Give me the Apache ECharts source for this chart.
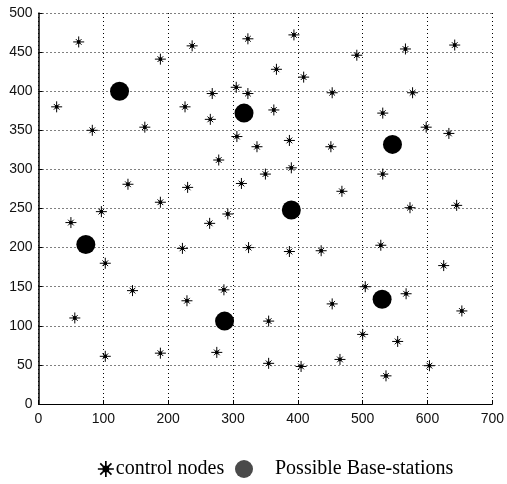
<!DOCTYPE html>
<html>
<head>
<meta charset="utf-8">
<script src="https://cdn.jsdelivr.net/npm/echarts@6/dist/echarts.min.js"></script>
<style>
html,body{margin:0;padding:0;background:#fff;}
#chart{width:507px;height:484px;}
</style>
</head>
<body>
<div id="chart"></div>
<script>
// Control nodes (x, y)
var nodeX = [62,188,237,323,394,491,566,642,367,409,305,323,268,453,577,28,226,363,531,83,164,265,598,633,306,337,387,451,278,390,350,531,138,230,313,468,188,97,50,573,645,292,264,222,324,387,436,528,103,625,145,286,504,567,453,229,653,56,355,500,554,103,188,275,355,405,465,603,536];
var nodeY = [463,441,458,467,472,446,454,459,428,418,405,397,397,398,398,380,380,376,372,350,354,364,354,346,342,329,337,329,312,302,294,294,281,277,282,272,258,246,232,251,254,243,231,199,200,195,196,203,180,177,145,146,150,141,128,132,119,110,106,89,80,61,65,66,52,48,57,49,36];
// Possible base-stations (x, y)
var bsX = [125,317,546,390,73,530,287];
var bsY = [400,372,332,248,204,134,106];
// Axis ticks
var xTicks = [0,100,200,300,400,500,600,700];
var yTicks = [0,50,100,150,200,250,300,350,400,450,500];

var nodes = nodeX.map(function(x,i){return [x,nodeY[i]];});
var bs = bsX.map(function(x,i){return [x,bsY[i]];});

var star = 'path://M0,-5L0,5M-5,0L5,0M-2.6,-2.6L2.6,2.6M-2.6,2.6L2.6,-2.6M-1.1,-1.1L1.1,-1.1L1.1,1.1L-1.1,1.1Z';
var starLegend = 'path://M0,-5L0,5M-5,0L5,0M-3.5,-3.5L3.5,3.5M-3.5,3.5L3.5,-3.5M-1.5,-1.5L1.5,-1.5L1.5,1.5L-1.5,1.5Z';

var chart = echarts.init(document.getElementById('chart'), null, {renderer:'canvas'});
var gridLine = {show:true, lineStyle:{color:'#000', width:1, type:[1,3]}};
var axisFont = {fontFamily:'Liberation Sans', fontSize:14, color:'#111'};
chart.setOption({
  animation:false,
  backgroundColor:'#fff',
  grid:{left:38.5, right:11, top:13, bottom:80, containLabel:false},
  xAxis:{
    type:'value', min:xTicks[0], max:xTicks[xTicks.length-1], interval:100,
    axisLine:{show:true, onZero:false, lineStyle:{color:'#000', width:1}},
    axisTick:{show:true, inside:true, length:4, lineStyle:{color:'#000'}},
    axisLabel:Object.assign({margin:8}, axisFont),
    splitLine:gridLine
  },
  yAxis:{
    type:'value', min:yTicks[0], max:yTicks[yTicks.length-1], interval:50,
    axisLine:{show:true, onZero:false, lineStyle:{color:'#000', width:1.5}},
    axisTick:{show:true, inside:true, length:4, lineStyle:{color:'#000'}},
    axisLabel:Object.assign({margin:6}, axisFont),
    splitLine:gridLine
  },
  legend:[{
    left:97, top:459, padding:0, itemWidth:16, itemHeight:16, itemGap:0,
    textStyle:{fontFamily:'Liberation Serif', fontSize:20, color:'#000', padding:[0,0,0,-3]},
    data:[{name:'control nodes', icon:starLegend, itemStyle:{color:'#000', borderColor:'#000', borderWidth:1.7}}]
  },{
    left:235, top:459, padding:0, itemWidth:18, itemHeight:18, itemGap:0,
    textStyle:{fontFamily:'Liberation Serif', fontSize:20, color:'#000', padding:[0,0,0,17]},
    data:[{name:'Possible Base-stations', icon:'circle', itemStyle:{color:'#4a4a4a'}}]
  }],
  series:[{
    name:'control nodes', type:'scatter', data:nodes,
    symbol:star, symbolSize:11,
    itemStyle:{color:'#000', borderColor:'#000', borderWidth:1, opacity:1},
    emphasis:{disabled:true}, z:3
  },{
    name:'Possible Base-stations', type:'scatter', data:bs,
    symbol:'circle', symbolSize:19,
    itemStyle:{color:'#000', opacity:1},
    emphasis:{disabled:true}, z:4
  }]
});
</script>
</body>
</html>
